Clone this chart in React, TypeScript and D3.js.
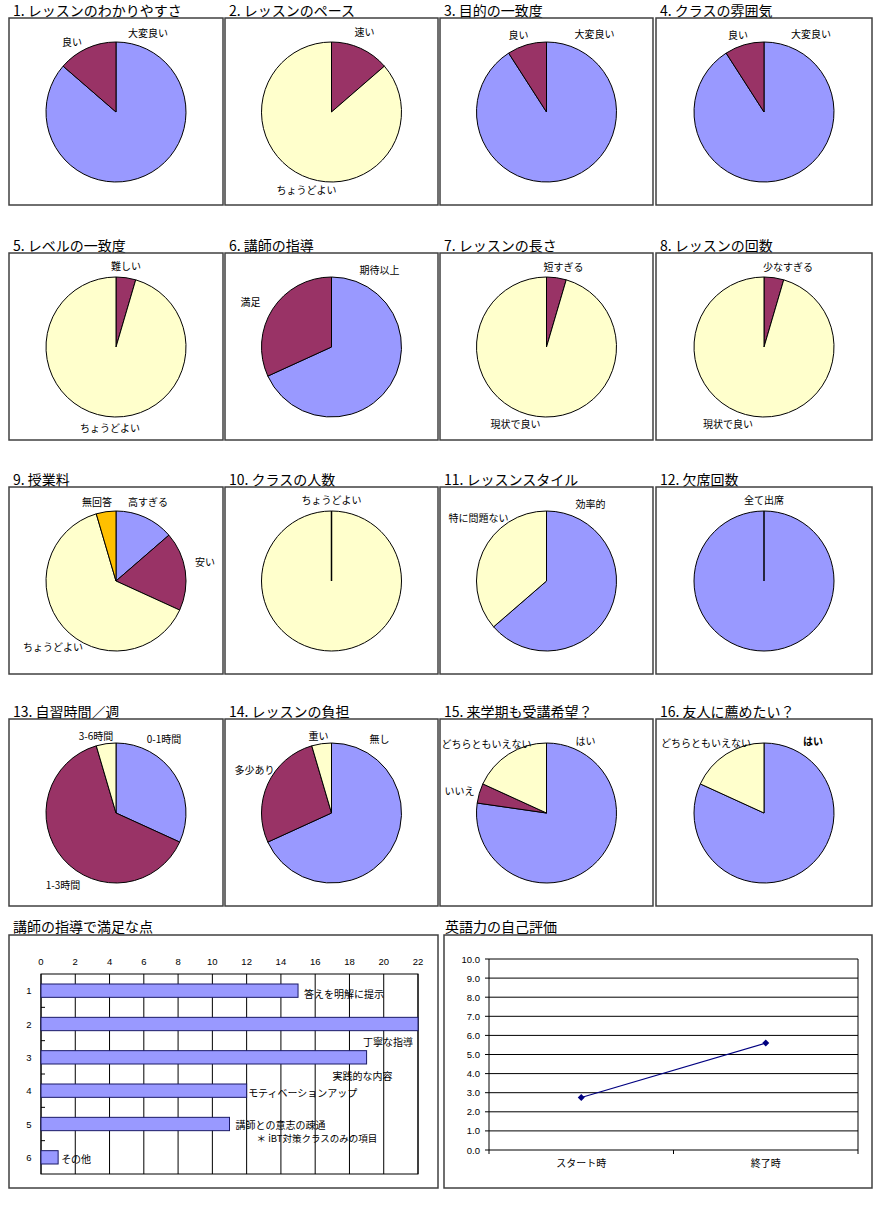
import React from 'react';
import * as d3 from 'd3';

// ---------------- DATA ----------------
const pieTitles = [
  '1. レッスンのわかりやすさ', '2. レッスンのペース', '3. 目的の一致度', '4. クラスの雰囲気',
  '5. レベルの一致度', '6. 講師の指導', '7. レッスンの長さ', '8. レッスンの回数',
  '9. 授業料', '10. クラスの人数', '11. レッスンスタイル', '12. 欠席回数',
  '13. 自習時間／週', '14. レッスンの負担', '15. 来学期も受講希望？', '16. 友人に薦めたい？',
];

const pieCategories = [
  ['大変良い', '良い'],
  ['速い', 'ちょうどよい'],
  ['大変良い', '良い'],
  ['大変良い', '良い'],
  ['難しい', 'ちょうどよい'],
  ['期待以上', '満足'],
  ['短すぎる', '現状で良い'],
  ['少なすぎる', '現状で良い'],
  ['高すぎる', '安い', 'ちょうどよい', '無回答'],
  ['ちょうどよい'],
  ['効率的', '特に問題ない'],
  ['全て出席'],
  ['0-1時間', '1-3時間', '3-6時間'],
  ['無し', '多少あり', '重い'],
  ['はい', 'いいえ', 'どちらともいえない'],
  ['はい', 'どちらともいえない'],
];

const pieValues = [
  [19, 3],
  [3, 19],
  [20, 2],
  [20, 2],
  [1, 21],
  [15, 7],
  [1, 21],
  [1, 21],
  [3, 4, 14, 1],
  [22],
  [14, 8],
  [22],
  [7, 14, 1],
  [15, 6, 1],
  [17, 1, 4],
  [18, 4],
];

const barCategories = ['1', '2', '3', '4', '5', '6'];
const barValues = [15, 22, 19, 12, 11, 1];
const barLabels = ['答えを明解に提示', '丁寧な指導', '実践的な内容', 'モティベーションアップ', '講師との意志の疎通', 'その他'];
const barNote = '＊ iBT対策クラスのみの項目';
const barTicks = [0, 2, 4, 6, 8, 10, 12, 14, 16, 18, 20, 22];

const lineCategories = ['スタート時', '終了時'];
const lineValues = [2.75, 5.6];
const lineTicks = [0, 1, 2, 3, 4, 5, 6, 7, 8, 9, 10];

// ---------------- STYLE / LAYOUT ----------------
const BLUE = '#9999FF';
const MAROON = '#993366';
const YELLOW = '#FFFFCC';
const ORANGE = '#FFC000';
const pieColors = [
  [BLUE, MAROON], [MAROON, YELLOW], [BLUE, MAROON], [BLUE, MAROON],
  [MAROON, YELLOW], [BLUE, MAROON], [MAROON, YELLOW], [MAROON, YELLOW],
  [BLUE, MAROON, YELLOW, ORANGE], [YELLOW], [BLUE, YELLOW], [BLUE],
  [BLUE, MAROON, YELLOW], [BLUE, MAROON, YELLOW], [BLUE, MAROON, YELLOW], [BLUE, YELLOW],
];
// label centre offsets from pie centre (manually placed labels in original)
const pieLabelOffsets = [
  [[32, -79], [-44, -70]],
  [[33, -80], [-25, 78]],
  [[48, -78], [-28, -77]],
  [[47, -78], [-26, -77]],
  [[10, -81], [-6, 81]],
  [[48, -77], [-81, -45]],
  [[17, -80], [-31, 77]],
  [[24, -80], [-36, 77]],
  [[32, -79], [89, -19], [-63, 66], [-19, -79]],
  [[0, -81]],
  [[44, -77], [-68, -63]],
  [[0, -81]],
  [[48, -74], [-53, 72], [-20, -77]],
  [[48, -74], [-77, -43], [-13, -77]],
  [[39, -72], [-87, -22], [-60, -69]],
  [[49, -72], [-58, -70]],
];
const boldLabels: Record<string, boolean> = { '16-0': true };

const colX = [9, 225, 440, 656];
const colW = [214, 213, 213, 216];
const rowY = [18, 253, 487, 719];
const boxH = 187;
const R = 70;

const FONT = '"MS PGothic", "Noto Sans CJK JP", sans-serif';
const NUMFONT = '"Liberation Sans", Arial, sans-serif';

// bar label placement: [dx from bar end, dy from band centre, anchor]
const barLabelPlacement: [number, number, string][] = [
  [6, 3.5, 'start'],
  [-5, 18, 'end'],
  [-4, 19, 'middle'],
  [1.5, 3, 'start'],
  [6, 1, 'start'],
  [3, 2, 'start'],
];
const barNotePlacement: [number, number] = [27, 14];

function Pie({ i }: { i: number }) {
  const col = i % 4;
  const row = Math.floor(i / 4);
  const bx = colX[col];
  const by = rowY[row];
  const cx = bx + colW[col] / 2;
  const cy = by + 94;
  const values = pieValues[i];
  const arcs = d3.pie<number>().sort(null).value(d => d)(values);
  const arc = d3.arc<d3.PieArcDatum<number>>().innerRadius(0).outerRadius(R);
  const single = values.length === 1;
  return (
    <g>
      <text x={bx + 4} y={by - 2} fontFamily={FONT} fontSize={14} fill="#000">{pieTitles[i]}</text>
      <rect x={bx} y={by} width={colW[col]} height={boxH} fill="#fff" stroke="#404040" strokeWidth={1.5} />
      <g transform={`translate(${cx},${cy})`}>
        {arcs.map((a, k) => (
          <path key={k} d={arc(a) || ''} fill={pieColors[i][k]} stroke="#000" strokeWidth={1} strokeLinejoin="round" />
        ))}
        {single && <line x1={0} y1={0} x2={0} y2={-R} stroke="#000" strokeWidth={1.5} />}
        {pieCategories[i].map((c, k) => (
          <text key={k} x={pieLabelOffsets[i][k][0]} y={pieLabelOffsets[i][k][1] + 4}
            textAnchor="middle" fontFamily={FONT} fontSize={10}
            fontWeight={boldLabels[`${i + 1}-${k}`] ? 'bold' : 'normal'} fill="#000">{c}</text>
        ))}
      </g>
    </g>
  );
}

function BarChart() {
  const bx = 9, by = 935, bw = 429, bh = 253;
  const x = d3.scaleLinear().domain([0, 22]).range([41, 418]);
  const y = d3.scaleBand<string>().domain(barCategories).range([974, 1174]).paddingInner(0.6).paddingOuter(0.3);
  const top = 974, bottom = 1174;
  const step = y.step();
  return (
    <g>
      <text x={bx + 4} y={by - 3} fontFamily={FONT} fontSize={14} fill="#000">講師の指導で満足な点</text>
      <rect x={bx} y={by} width={bw} height={bh} fill="#fff" stroke="#404040" strokeWidth={1.5} />
      {barTicks.map(t => (
        <g key={t}>
          <line x1={x(t)} x2={x(t)} y1={top} y2={bottom} stroke="#000" strokeWidth={1} />
          <text x={x(t)} y={top - 9} textAnchor="middle" fontFamily={NUMFONT} fontSize={9.5} fill="#000">{t}</text>
        </g>
      ))}
      <rect x={x(0)} y={top} width={x(22) - x(0)} height={bottom - top} fill="none" stroke="#000" strokeWidth={1} />
      {barCategories.slice(1).map((c, k) => (
        <line key={c} x1={x(0)} x2={x(0) + 4} y1={top + step * (k + 1)} y2={top + step * (k + 1)} stroke="#000" />
      ))}
      {barCategories.map((c, k) => {
        const yc = (y(c) || 0) + y.bandwidth() / 2;
        return (
          <g key={c}>
            <rect x={x(0)} y={y(c)} width={x(barValues[k]) - x(0)} height={y.bandwidth()} fill={BLUE} stroke="#1a1a66" strokeWidth={1} />
            <text x={29} y={yc + 3.5} textAnchor="middle" fontFamily={NUMFONT} fontSize={9.5} fill="#000">{c}</text>
            <text x={x(barValues[k]) + barLabelPlacement[k][0]} y={yc + barLabelPlacement[k][1] + 3.5}
              textAnchor={barLabelPlacement[k][2] as any} fontFamily={FONT} fontSize={10} fill="#000">{barLabels[k]}</text>
            {k === 4 && (
              <text x={x(barValues[k]) + barNotePlacement[0]} y={yc + barNotePlacement[1] + 3.5}
                fontFamily={FONT} fontSize={9.5} fill="#000">{barNote}</text>
            )}
          </g>
        );
      })}
    </g>
  );
}

function LineChart() {
  const bx = 444, by = 935, bw = 428, bh = 253;
  const left = 489, right = 858, top = 959, bottom = 1150;
  const y = d3.scaleLinear().domain([0, 10]).range([bottom, top]);
  const x = d3.scaleBand<string>().domain(lineCategories).range([left, right]);
  const pts = lineCategories.map((c, k) => [(x(c) || 0) + x.bandwidth() / 2, y(lineValues[k])] as [number, number]);
  const line = d3.line();
  return (
    <g>
      <text x={bx + 1} y={by - 3} fontFamily={FONT} fontSize={14} fill="#000">英語力の自己評価</text>
      <rect x={bx} y={by} width={bw} height={bh} fill="#fff" stroke="#404040" strokeWidth={1.5} />
      {lineTicks.map(t => (
        <g key={t}>
          <line x1={left} x2={right} y1={y(t)} y2={y(t)} stroke="#000" strokeWidth={1} />
          <line x1={left - 4} x2={left} y1={y(t)} y2={y(t)} stroke="#000" strokeWidth={1} />
          <text x={left - 9} y={y(t) + 3.5} textAnchor="end" fontFamily={NUMFONT} fontSize={9.5} fill="#000">{t.toFixed(1)}</text>
        </g>
      ))}
      <line x1={left} x2={left} y1={top} y2={bottom} stroke="#000" strokeWidth={1} />
      <line x1={right} x2={right} y1={top} y2={bottom} stroke="#000" strokeWidth={1} />
      {[left, left + x.step(), right].map((xx, k) => (
        <line key={k} x1={xx} x2={xx} y1={bottom} y2={bottom + 4} stroke="#000" strokeWidth={1} />
      ))}
      {lineCategories.map(c => (
        <text key={c} x={(x(c) || 0) + x.bandwidth() / 2} y={bottom + 17} textAnchor="middle" fontFamily={FONT} fontSize={10} fill="#000">{c}</text>
      ))}
      <path d={line(pts) || ''} fill="none" stroke="#000080" strokeWidth={1.2} />
      {pts.map((p, k) => (
        <path key={k} transform={`translate(${p[0]},${p[1]})`} d="M0,-3.5L3.5,0L0,3.5L-3.5,0Z" fill="#000080" />
      ))}
    </g>
  );
}

export default function App() {
  return (
    <svg width={883} height={1207} style={{ position: 'absolute', left: 0, top: 0, background: '#fff' }}>
      <rect x={0} y={0} width={883} height={1207} fill="#fff" />
      {pieTitles.map((_, i) => <Pie key={i} i={i} />)}
      <BarChart />
      <LineChart />
    </svg>
  );
}
